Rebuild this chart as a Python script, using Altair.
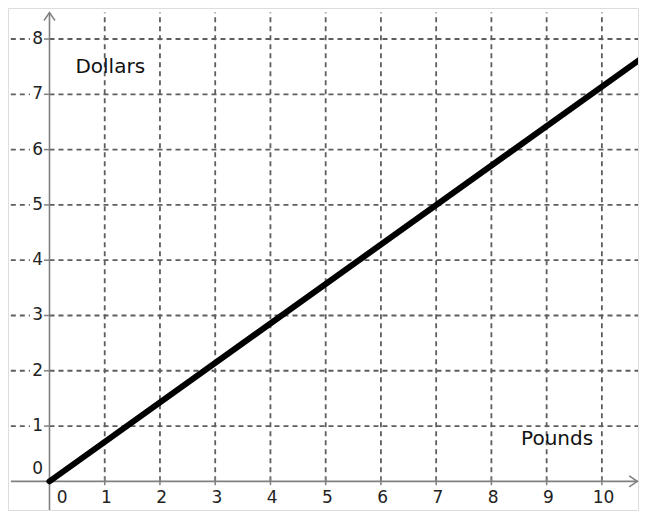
import altair as alt
import pandas as pd

# ---- data ----
x_ticks = [1, 2, 3, 4, 5, 6, 7, 8, 9, 10]
y_ticks = [1, 2, 3, 4, 5, 6, 7, 8]
line_x = [0, 10.8]
line_y = [0, 7.71]
x_label_text = ["0", "1", "2", "3", "4", "5", "6", "7", "8", "9", "10"]
y_label_text = ["0", "1", "2", "3", "4", "5", "6", "7", "8"]
axis_titles = ["Dollars", "Pounds"]

XD = [-0.751, 10.654]
YD = [-0.518, 8.561]
xs = alt.Scale(domain=XD, nice=False, zero=False)
ys = alt.Scale(domain=YD, nice=False, zero=False)

GRID = "#5e5e5e"
AXC = "#808080"
FONT = "DejaVu Sans"

def X(f="x"):
    return alt.X(f"{f}:Q", scale=xs, axis=None)

def Y(f="y"):
    return alt.Y(f"{f}:Q", scale=ys, axis=None)

# horizontal grid (three pieces: left dashes, small tick, right dashes)
hg = pd.DataFrame({"y": y_ticks, "xl0": -0.70, "xl1": -0.355, "xt0": -0.10, "xt1": 0.0,
                   "xr0": 0.0, "xr1": XD[1]})
h_left = alt.Chart(hg).mark_rule(color=GRID, strokeWidth=1.8, strokeDash=[5, 4]).encode(
    x=X("xl0"), x2="xl1:Q", y=Y())
h_tick = alt.Chart(hg).mark_rule(color=AXC, strokeWidth=1.5).encode(
    x=X("xt0"), x2="xt1:Q", y=Y())
h_right = alt.Chart(hg).mark_rule(color=GRID, strokeWidth=1.8, strokeDash=[5, 4]).encode(
    x=X("xr0"), x2="xr1:Q", y=Y())

# vertical grid
vg = pd.DataFrame({"x": x_ticks, "y0": 0.0, "y1": 8.48, "t0": -0.07, "t1": 0.07})
v_grid = alt.Chart(vg).mark_rule(color=GRID, strokeWidth=1.8, strokeDash=[5, 4]).encode(
    x=X(), y=Y("y0"), y2="y1:Q")
v_tick = alt.Chart(vg).mark_rule(color=AXC, strokeWidth=1.5).encode(
    x=X(), y=Y("t0"), y2="t1:Q")

# axes lines
ax = pd.DataFrame({"x0": [0.0, -0.70], "x1": [0.0, XD[1]], "y0": [YD[0], 0.0], "y1": [8.48, 0.0]})
axes = alt.Chart(ax).mark_rule(color=AXC, strokeWidth=1.6).encode(
    x=X("x0"), x2="x1:Q", y=Y("y0"), y2="y1:Q")

up = alt.Chart(pd.DataFrame({"x": [0.0], "y": [8.48]})).mark_point(
    shape="M-1,1.45L0,0L1,1.45", filled=False, color=AXC, strokeWidth=1.5, size=121, opacity=1
).encode(x=X(), y=Y())
right = alt.Chart(pd.DataFrame({"x": [10.64], "y": [0.0]})).mark_point(
    shape="M-1.45,-1L0,0L-1.45,1", filled=False, color=AXC, strokeWidth=1.5, size=121, opacity=1
).encode(x=X(), y=Y())

# main line
ld = pd.DataFrame({"x": line_x, "y": line_y})
line = alt.Chart(ld).mark_line(color="black", strokeWidth=6, clip=True, strokeCap="round").encode(
    x=X(), y=Y())

# tick labels
xl = pd.DataFrame({"t": x_label_text,
                   "x": [0.23] + [v + 0.03 for v in x_ticks],
                   "y": -0.31})
x_labels = alt.Chart(xl).mark_text(font=FONT, fontSize=17, color="#222222", baseline="middle",
                                   align="center").encode(x=X(), y=Y(), text="t:N")
yl = pd.DataFrame({"t": y_label_text, "x": -0.215, "y": [0.22] + y_ticks})
y_labels = alt.Chart(yl).mark_text(font=FONT, fontSize=17, color="#222222", baseline="middle",
                                   align="center").encode(x=X(), y=Y(), text="t:N")

tl = pd.DataFrame({"t": axis_titles, "x": [1.1, 9.19], "y": [7.5, 0.76]})
titles = alt.Chart(tl).mark_text(font=FONT, fontSize=20, color="#111111", baseline="middle",
                                 align="center").encode(x=X(), y=Y(), text="t:N")

chart = alt.layer(h_left, h_tick, h_right, v_grid, v_tick, axes, up, right, line,
                  x_labels, y_labels, titles).properties(
    width=633, height=503,
    autosize=alt.AutoSizeParams(type="fit", contains="padding"),
    padding=0,
).configure_view(strokeWidth=0, stroke="transparent").configure(background="white")

chart.save("out.html", embed_options={"renderer": "svg", "actions": False})
